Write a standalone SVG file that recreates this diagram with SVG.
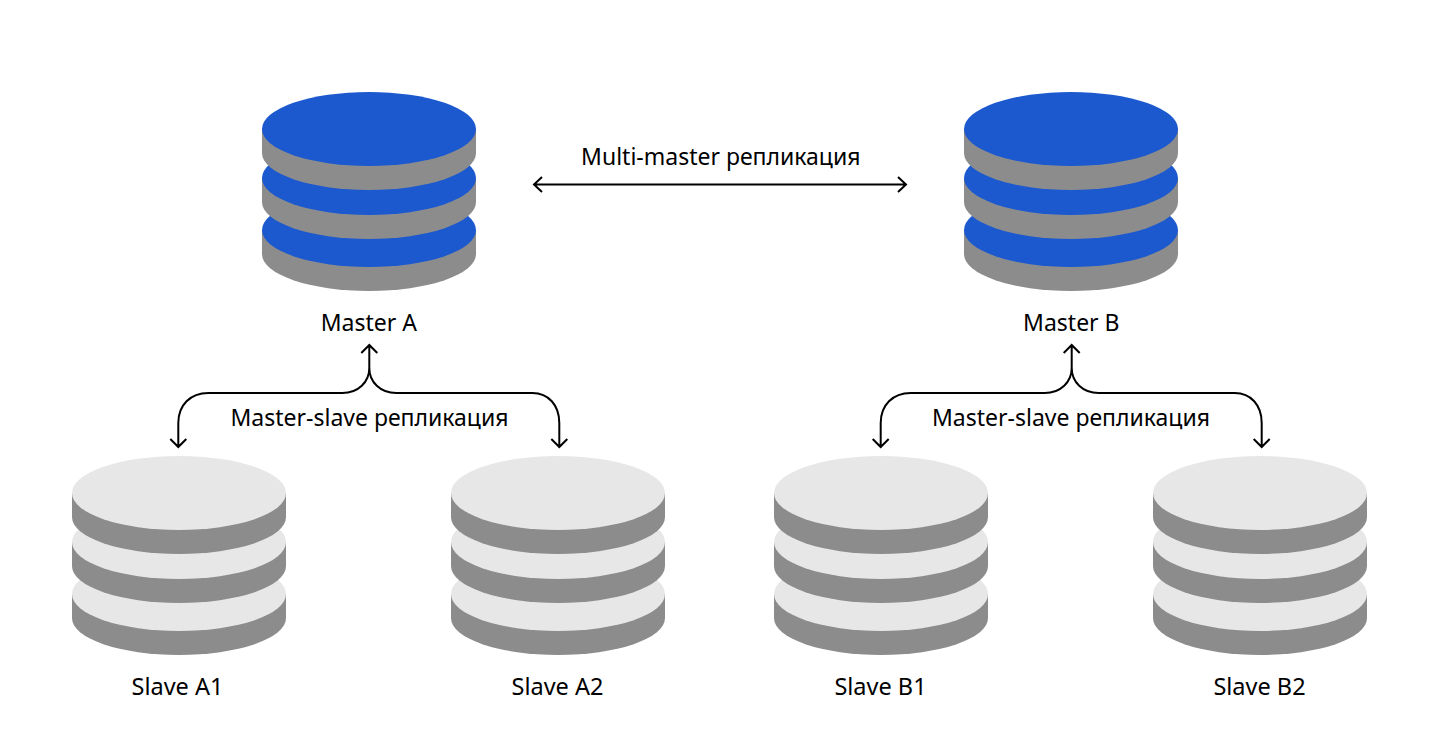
<svg xmlns="http://www.w3.org/2000/svg" xmlns:xlink="http://www.w3.org/1999/xlink" width="1440" height="754" viewBox="0 0 1440 754">
<style>
.side{fill:#8c8c8c}
.blue{fill:#1c59cf}
.light{fill:#e7e7e7}
.lbl{font-family:"Noto Sans","Liberation Sans",sans-serif;font-size:23px;fill:#000;text-anchor:middle}
.lbl.s{font-size:23.500px}
.conn{fill:none;stroke:#000;stroke-width:2}
</style>
<defs>
<g id="disk"><path class="side" d="M-107 0V24A107 37 0 0 0 107 24V0Z"/></g>
<g id="stack-blue">
<use xlink:href="#disk" y="230"/><ellipse class="blue" cy="230" rx="107" ry="37"/>
<use xlink:href="#disk" y="178"/><ellipse class="blue" cy="178" rx="107" ry="37"/>
<use xlink:href="#disk" y="129"/><ellipse class="blue" cy="129" rx="107" ry="37"/>
</g>
<g id="stack-light">
<use xlink:href="#disk" y="230"/><ellipse class="light" cy="230" rx="107" ry="37"/>
<use xlink:href="#disk" y="178"/><ellipse class="light" cy="178" rx="107" ry="37"/>
<use xlink:href="#disk" y="129"/><ellipse class="light" cy="129" rx="107" ry="37"/>
</g>
<g id="brace" class="conn"><path d="M0 346V368C0 382 -11 393 -27 393H-161C-179 393 -191 405 -191 423V447M-199 439L-191 447L-183 439M-8 353L0 345L8 353M0 368C0 382 11 393 27 393H163C179 393 190 405 190 423V447M182 439L190 447L198 439"/></g>
</defs>
<rect width="1440" height="754" fill="#fff"/>
<g id="connectors">
<path class="conn" d="M534 184.500H906M542 177L534 184.500L542 192M898 177L906 184.500L898 192"/>
<use xlink:href="#brace" x="369.300"/>
<use xlink:href="#brace" x="1071.700" />
</g>
<g id="master-a"><use xlink:href="#stack-blue" x="369"/><text class="lbl" x="368.800" y="331">Master A</text></g>
<g id="master-b"><use xlink:href="#stack-blue" x="1071"/><text class="lbl" x="1071.300" y="331">Master B</text></g>
<g id="slave-a1"><use xlink:href="#stack-light" x="179" y="364"/><text class="lbl s" x="177.500" y="695">Slave A1</text></g>
<g id="slave-a2"><use xlink:href="#stack-light" x="558" y="364"/><text class="lbl s" x="557.500" y="695">Slave A2</text></g>
<g id="slave-b1"><use xlink:href="#stack-light" x="881" y="364"/><text class="lbl s" x="880.500" y="695">Slave B1</text></g>
<g id="slave-b2"><use xlink:href="#stack-light" x="1260" y="364"/><text class="lbl s" x="1259.500" y="695">Slave B2</text></g>
<g id="labels">
<text class="lbl" x="720.800" y="165">Multi-master репликация</text>
<text class="lbl" x="369.500" y="426">Master-slave репликация</text>
<text class="lbl" x="1071" y="426">Master-slave репликация</text>
</g>
</svg>
